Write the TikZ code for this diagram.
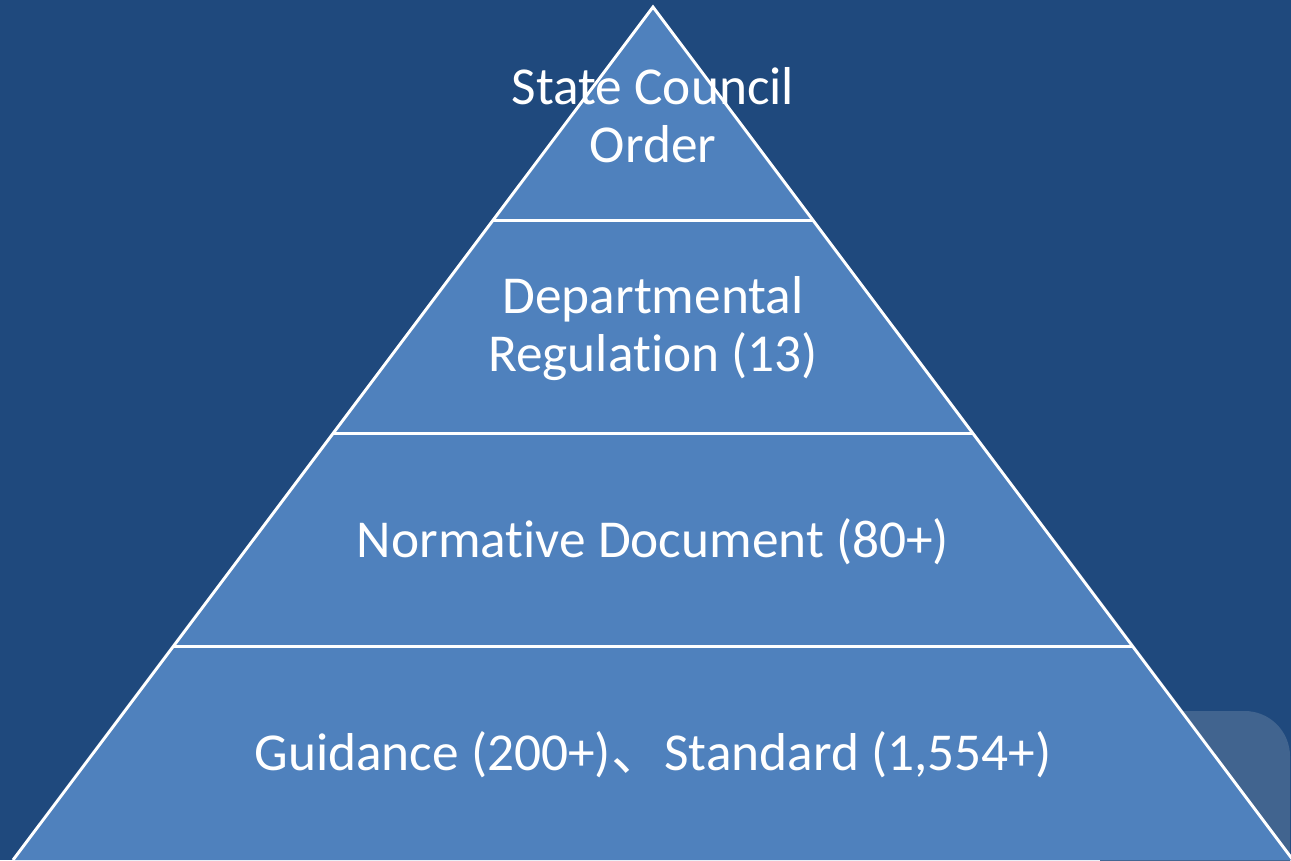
\documentclass[tikz,border=0pt]{standalone}
\usepackage{fontspec}
\setmainfont[RawFeature=-liga,RawFeature=-clig,RawFeature=-calt]{Carlito}
\newfontfamily\cjk{Noto Sans CJK SC}
\usetikzlibrary{calc,positioning}
\definecolor{slidebg}{HTML}{1F497D}
\definecolor{tierfill}{HTML}{4F81BD}
\definecolor{cornerbox}{HTML}{41648F}

\begin{document}
\begin{tikzpicture}[x=0.75pt,y=-0.75pt,
  tier/.style={text=white,align=center,inner sep=0pt,font=\fontsize{40}{43.5}\selectfont},
  divider/.style={draw=white,line width=2.2pt}]
  \clip (0,0) rectangle (1291,860);
  \fill[slidebg] (0,0) rectangle (1291,860);
  \fill[cornerbox,rounded corners=34pt] (1100,711) rectangle (1290,920);

  % pyramid outline
  \coordinate (apex) at (653,7);
  \coordinate (baseL) at (13,860);
  \coordinate (baseR) at (1293,860);
  \filldraw[fill=tierfill,divider] (baseL) -- (apex) -- (baseR);

  % tier borders
  \foreach \f in {0.25,0.5,0.75}
    \draw[divider] ($(apex)!\f!(baseL)$) -- ($(apex)!\f!(baseR)$);

  % tier labels
  \node[tier] (council) at (653,115) {State Council\\Order};
  \node[tier] (regulation) at (653,329) {Departmental\\Regulation (13)};
  \node[tier] (normative) at (653,542) {Normative Document (80+)};
  \node[tier] (guidance) at (653,755) {Guidance (200+){\cjk 、}Standard (1,554+)};
\end{tikzpicture}
\end{document}
